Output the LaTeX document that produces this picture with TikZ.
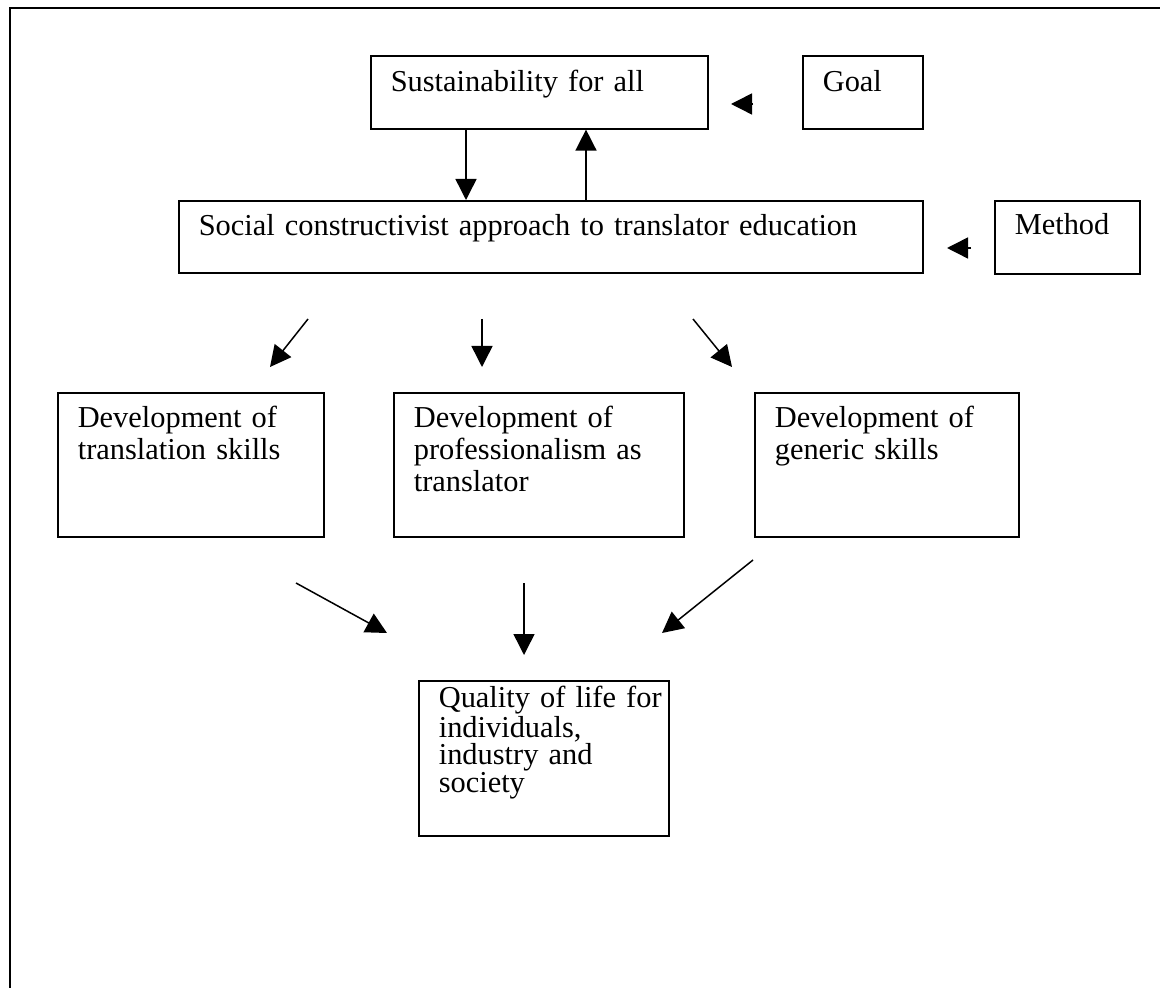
\documentclass[tikz,border=0pt]{standalone}
\usepackage{fontspec}
\setmainfont{Liberation Serif}
\usepackage{tikz}
\usetikzlibrary{arrows.meta}
\tikzset{
  block/.style = {
    rectangle,
    draw=black,
    line width=0.8pt,
    anchor=north west,
    align=left,
    inner xsep=10pt,
    inner ysep=0pt,
    font=\fontsize{15.2pt}{15.8pt}\selectfont
  },
  block_tight/.style = {
    block,
    font=\fontsize{15.2pt}{13.3pt}\selectfont
  },
  arrow/.style = {
    -{Triangle[length=10.5pt, width=10.5pt]},
    line width=0.75pt,
    draw=black
  },
  frame/.style = {
    line width=1pt,
    draw=black
  }
}

\begin{document}
\begin{tikzpicture}[
  x=0.5pt, y=-0.5pt % one unit = one pixel of the reference
]
\useasboundingbox (0,0) rectangle (1160,988);

% ===== Moldura externa (so topo e esquerda visiveis) =====
\draw [frame] (10,1000) |- (1170,8);

% ===== Linha 1: objetivo =====
\node (sust) [block, text width=148.5pt, text height=18pt, text depth=18.5pt] at (370,55) {Sustainability for all};
\node (goal) [block, text width=40pt, text height=18pt, text depth=18.5pt] at (802,55) {Goal};

% ===== Linha 2: metodo =====
\node (social) [block, text width=352pt, text height=17.5pt, text depth=18.5pt] at (178,200) {Social constructivist approach to translator education};
\node (method) [block, text width=52.5pt, text height=17pt, text depth=19.5pt] at (994,200) {Method};

% ===== Linha 3: desenvolvimento =====
\node (transl) [block, text width=113pt, text height=17.5pt, text depth=54.5pt] at (57,392) {Development of\\translation skills};
\node (prof) [block, text width=125pt, text height=17.5pt, text depth=54.5pt] at (393,392) {Development of\\professionalism as\\translator};
\node (generic) [block, text width=112pt, text height=17.5pt, text depth=54.5pt] at (754,392) {Development of\\generic skills};

% ===== Linha 4: resultado =====
\node (quality) [block_tight, text width=105pt, text height=13.5pt, text depth=64pt] at (418,680) {\mbox{Quality of life for}\\individuals,\\industry and\\society};

% ===== Pontas soltas das setas =====
\coordinate (goal tail) at (753,104);
\coordinate (goal tip) at (731,104);
\coordinate (method tail) at (971,248);
\coordinate (method tip) at (947,248);

\coordinate (out l) at (308,319);
\coordinate (out m) at (482,319);
\coordinate (out r) at (693,319);
\coordinate (in l) at (270,367);
\coordinate (in m) at (482,367);
\coordinate (in r) at (732,367);

\coordinate (join l) at (296,583);
\coordinate (join m) at (524,583);
\coordinate (join r) at (753,560);
\coordinate (end l) at (387,633);
\coordinate (end m) at (524,655);
\coordinate (end r) at (662,633);

% ===== Setas =====
\draw [arrow] (goal tail) -- (goal tip);
\draw [arrow] (method tail) -- (method tip);

\draw [arrow] ([xshift=48pt]sust.south west) -- ([xshift=144pt]social.north west);   % desce
\draw [arrow] ([xshift=204pt]social.north west) -- ([xshift=108pt]sust.south west);  % sobe

\draw [arrow] (out l) -- (in l);
\draw [arrow] (out m) -- (in m);
\draw [arrow] (out r) -- (in r);

\draw [arrow] (join l) -- (end l);
\draw [arrow] (join m) -- (end m);
\draw [arrow] (join r) -- (end r);

\end{tikzpicture}
\end{document}
